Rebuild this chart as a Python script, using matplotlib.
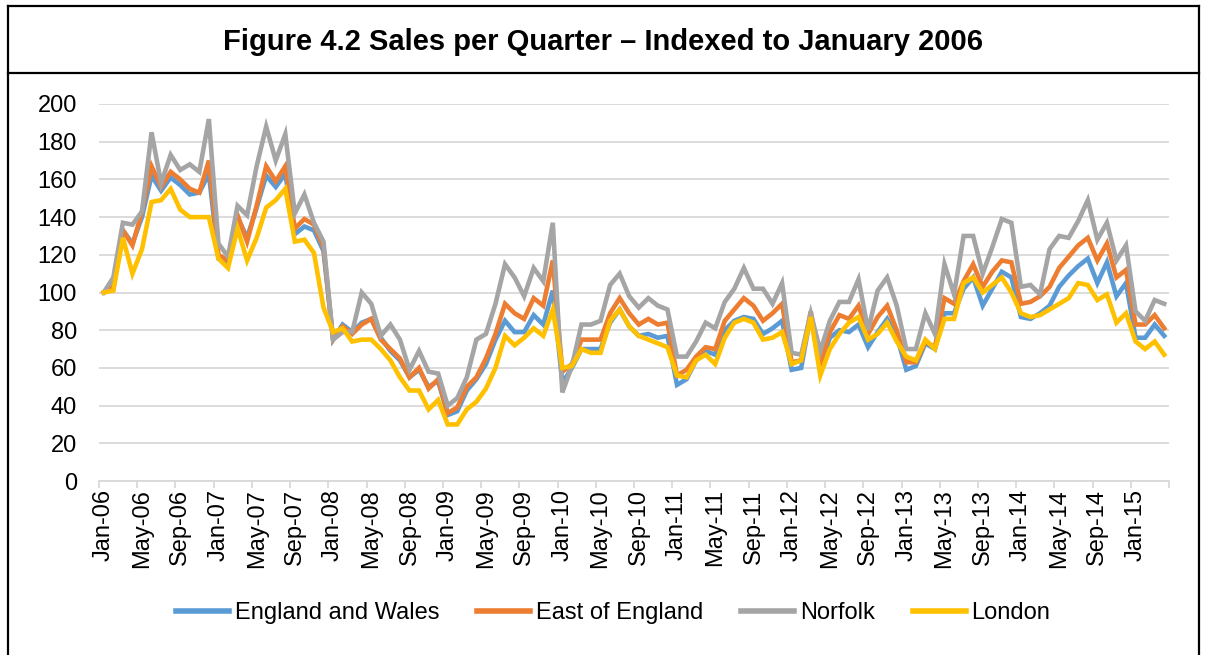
import matplotlib
matplotlib.use('Agg')
import matplotlib.pyplot as plt
from matplotlib.lines import Line2D

# monthly index values, Jan-06 .. Apr-15 (Jan 2006 = 100)
england_wales = [100, 102, 133, 126, 140, 162, 154, 161, 157, 152, 153, 163,
                 118, 116, 140, 129, 145, 162, 156, 163, 131, 135, 133, 122,
                 75, 83, 79, 84, 86, 76, 69, 64, 55, 59, 50, 53,
                 35, 37, 48, 54, 62, 75, 85, 79, 79, 88, 83, 101,
                 52, 60, 70, 70, 70, 84, 91, 82, 77, 78, 76, 77,
                 51, 54, 64, 69, 67, 80, 85, 87, 86, 78, 81, 85,
                 59, 60, 88, 61, 76, 80, 79, 83, 71, 79, 86, 77,
                 59, 61, 73, 70, 89, 89, 102, 108, 93, 102, 111, 108,
                 87, 86, 89, 93, 103, 109, 114, 118, 105, 116, 98, 105,
                 76, 76, 83, 77]
east_of_england = [100, 103, 133, 125, 143, 167, 156, 164, 160, 155, 153, 170,
                   120, 117, 141, 127, 146, 167, 159, 167, 134, 139, 136, 124,
                   75, 82, 78, 83, 86, 75, 70, 65, 55, 60, 49, 54,
                   36, 39, 50, 55, 65, 78, 94, 89, 86, 97, 93, 117,
                   58, 62, 75, 75, 75, 89, 97, 89, 83, 86, 83, 84,
                   56, 59, 66, 71, 70, 85, 91, 97, 93, 85, 89, 94,
                   63, 64, 90, 62, 79, 88, 86, 93, 78, 87, 93, 80,
                   63, 63, 74, 71, 97, 94, 106, 115, 103, 111, 117, 116,
                   94, 95, 98, 103, 113, 119, 125, 129, 117, 126, 108, 112,
                   83, 83, 88, 81]
norfolk = [100, 108, 137, 136, 143, 185, 158, 173, 165, 168, 164, 192,
           126, 119, 146, 141, 167, 188, 170, 184, 142, 152, 137, 127,
           75, 79, 79, 100, 94, 77, 83, 75, 59, 69, 58, 57,
           40, 44, 55, 75, 78, 94, 115, 108, 98, 113, 106, 137,
           47, 61, 83, 83, 85, 104, 110, 98, 92, 97, 93, 91,
           66, 66, 74, 84, 81, 95, 102, 113, 102, 102, 94, 105,
           68, 67, 89, 69, 85, 95, 95, 107, 80, 101, 108, 93,
           70, 70, 89, 78, 115, 99, 130, 130, 110, 124, 139, 137,
           103, 104, 99, 123, 130, 129, 138, 149, 128, 137, 117, 125,
           90, 85, 96, 94]
london = [100, 101, 129, 110, 123, 148, 149, 155, 144, 140, 140, 140,
          118, 113, 134, 117, 129, 145, 149, 155, 127, 128, 121, 92,
          79, 81, 74, 75, 75, 70, 64, 55, 48, 48, 38, 43,
          30, 30, 38, 42, 49, 60, 77, 72, 76, 81, 77, 91,
          60, 61, 70, 68, 68, 85, 91, 82, 77, 75, 73, 71,
          56, 55, 64, 67, 62, 76, 84, 86, 84, 75, 76, 79,
          62, 64, 87, 56, 70, 78, 84, 87, 75, 78, 84, 74,
          66, 64, 75, 70, 86, 86, 105, 108, 100, 104, 108, 100,
          89, 87, 88, 91, 94, 97, 105, 104, 96, 99, 84, 89,
          74, 70, 74, 67]

tick_labels = ['Jan-06', 'May-06', 'Sep-06', 'Jan-07', 'May-07', 'Sep-07',
               'Jan-08', 'May-08', 'Sep-08', 'Jan-09', 'May-09', 'Sep-09',
               'Jan-10', 'May-10', 'Sep-10', 'Jan-11', 'May-11', 'Sep-11',
               'Jan-12', 'May-12', 'Sep-12', 'Jan-13', 'May-13', 'Sep-13',
               'Jan-14', 'May-14', 'Sep-14', 'Jan-15']

series = [('England and Wales', england_wales, '#5B9BD5'),
          ('East of England', east_of_england, '#ED7D31'),
          ('Norfolk', norfolk, '#A5A5A5'),
          ('London', london, '#FFC000')]

plt.rcParams['font.family'] = ['Liberation Sans', 'DejaVu Sans']

fig = plt.figure(figsize=(12.06, 6.55), dpi=100)
ax = fig.add_axes([99/1206, 1 - 481/655, (1169 - 99)/1206, (481 - 104)/655])

n = len(england_wales)
xs = list(range(n))
for name, vals, col in series:
    ax.plot(xs, vals, color=col, lw=3.3, label=name, solid_joinstyle='miter')

ax.set_xlim(-0.5, n - 0.5)
ax.set_ylim(0, 200)
ax.set_yticks(range(0, 201, 20))
ax.grid(axis='y', color='#d9d9d9', lw=1.3)
ax.set_axisbelow(True)
for s in ['top', 'right', 'left']:
    ax.spines[s].set_visible(False)
ax.spines['bottom'].set_color('#d9d9d9')
ax.spines['bottom'].set_linewidth(1.3)

ax.set_xticks(range(0, 4 * len(tick_labels), 4))
ax.set_xticklabels(tick_labels, rotation=90)
ax.set_xticks([k - 0.5 for k in range(0, n + 1, 4)], minor=True)
ax.tick_params(axis='x', which='major', length=0, pad=6, labelsize=17)
ax.tick_params(axis='x', which='minor', length=5, color='#d9d9d9', width=1.3)
ax.tick_params(axis='y', length=0, pad=16, labelsize=17)

# title box
fig.text(0.5, 1 - 42/655, 'Figure 4.2 Sales per Quarter \u2013 Indexed to January 2006',
         ha='center', va='center', fontsize=21, fontweight='bold')
for (x0, y0, x1, y1) in [(8, 6, 1199, 6), (8, 73, 1199, 73), (8, 6, 8, 655), (1199, 6, 1199, 655)]:
    fig.add_artist(Line2D([x0/1206, x1/1206], [1 - y0/655, 1 - y1/655],
                          color='black', lw=1.6, transform=fig.transFigure))

handles = [Line2D([], [], color=c, lw=4) for _, _, c in series]
fig.legend(handles, [s[0] for s in series], loc='center', bbox_to_anchor=(613/1206, 1 - 613/655),
           ncol=4, frameon=False, fontsize=17, handlelength=2.25, handletextpad=0.25,
           columnspacing=1.6)

fig.savefig('out.png', dpi=100)
